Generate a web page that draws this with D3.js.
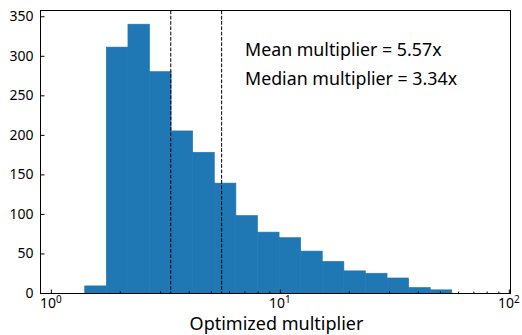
<!DOCTYPE html>
<html><head><meta charset="utf-8">
<script src="https://cdn.jsdelivr.net/npm/d3@7"></script>
<style>
html,body{margin:0;padding:0;background:#fff;}
text{font-family:"Noto Sans","Open Sans",sans-serif;fill:#000;}
</style></head>
<body><svg id="c" width="522" height="335"></svg>
<script>
// bin edges (multiplier values, log-spaced)
const binEdges = [1.406,1.747,2.171,2.697,3.351,4.164,5.173,6.428,7.987,9.924,12.33,15.32,19.04,23.65,29.39,36.52,45.38,56.38];
// counts per bin
const counts = [9,311,340,280,205,178,139,98,77,70,53,40,28,25,19,7,4];
const meanVal = 5.57;
const medianVal = 3.34;
const yTicks = [0,50,100,150,200,250,300,350];
const xMajor = [1,10,100];
const xMinor = [2,3,4,5,6,7,8,9,20,30,40,50,60,70,80,90];
const xTickExp = ["0","1","2"];
const annotations = ["Mean multiplier = 5.57x","Median multiplier = 3.34x"];
const xLabel = "Optimized multiplier";

const L=40.5, R=510.5, T=10.5, B=293;
const svg = d3.select("#c");
const x = d3.scaleLog().domain([0.9012, 101.7]).range([L, R]);
const y = d3.scaleLinear().domain([0, 357.3]).range([B, T]);

const bins = counts.map((c,i)=>({x0:binEdges[i],x1:binEdges[i+1],c}));
svg.append("g").selectAll("rect").data(bins).join("rect")
  .attr("x", d=>x(d.x0)).attr("width", d=>x(d.x1)-x(d.x0))
  .attr("y", d=>y(d.c)).attr("height", d=>B-y(d.c))
  .attr("fill","#1f77b4").attr("stroke","#1f77b4").attr("stroke-width",0.6);

// dashed lines
[medianVal, meanVal].forEach(v=>{
  svg.append("line").attr("x1",x(v)).attr("x2",x(v)).attr("y1",T).attr("y2",B)
    .attr("stroke","#000").attr("stroke-width",1).attr("stroke-dasharray","3.7,1.6");
});

// spines
svg.append("rect").attr("x",L).attr("y",T).attr("width",R-L).attr("height",B+0.5-T)
  .attr("fill","none").attr("stroke","#000").attr("stroke-width",1);

// y axis ticks (inward)
const yAxis = d3.axisLeft(y).tickValues(yTicks).tickSize(-4).tickPadding(7);
const gy = svg.append("g").attr("transform",`translate(${L},0)`).call(yAxis);
gy.select(".domain").remove();
gy.selectAll("text").style("font-size","14px").attr("fill","#000");

// x axis major ticks
const xAxis = d3.axisBottom(x).tickValues(xMajor).tickSize(-4).tickFormat("");
const gx = svg.append("g").attr("transform",`translate(0,${B+0.5})`).call(xAxis);
gx.select(".domain").remove();
const xAxisMinor = d3.axisBottom(x).tickValues(xMinor).tickSize(-2).tickFormat("");
const gxm = svg.append("g").attr("transform",`translate(0,${B+0.5})`).call(xAxisMinor);
gxm.select(".domain").remove();

// x tick labels 10^n
xMajor.forEach((v,i)=>{
  const t = svg.append("text").attr("x",x(v)).attr("y",B+14.5).attr("text-anchor","middle")
    .style("font-size","14px");
  t.append("tspan").text("10");
  t.append("tspan").attr("dy",-5).style("font-size","10px").text(xTickExp[i]);
});

// annotations
annotations.forEach((a,i)=>{
  svg.append("text").attr("x",245).attr("y",56+i*29).style("font-size","17.8px").text(a);
});

svg.append("text").attr("x",(L+R)/2 + 1).attr("y",329.5).attr("text-anchor","middle")
  .style("font-size","18px").text(xLabel);
</script></body></html>
